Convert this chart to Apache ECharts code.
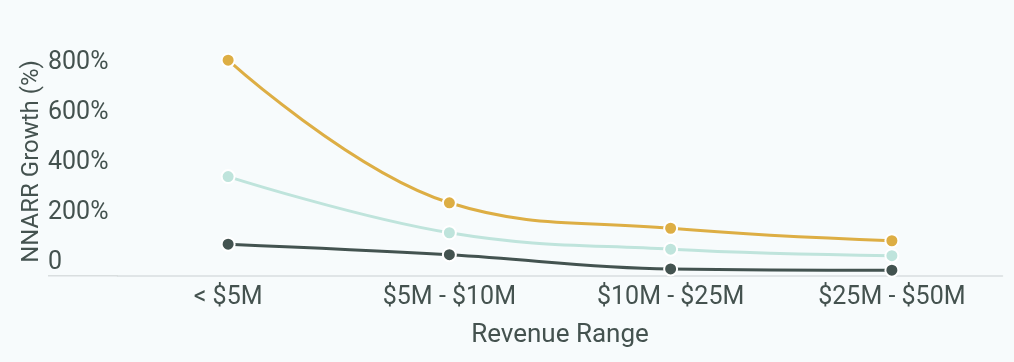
<!DOCTYPE html>
<html>
<head>
<meta charset="utf-8">
<script src="https://cdn.jsdelivr.net/npm/echarts@6/dist/echarts.min.js"></script>
<style>
html,body{margin:0;padding:0;background:#f7fbfc;}
#chart{width:1014px;height:362px;}
</style>
</head>
<body>
<div id="chart"></div>
<script>
const categories = ['< $5M', '$5M - $10M', '$10M - $25M', '$25M - $50M'];
const seriesHigh = [800, 229, 127, 77];
const seriesMid = [334, 109, 43, 17];
const seriesLow = [63, 21, -36, -41];
const yTickValues = [0, 200, 400, 600, 800];

const textColor = '#44524f';
const chart = echarts.init(document.getElementById('chart'), null, {renderer: 'canvas'});
const mk = (name, data, color, z) => ({
  name, type: 'line', data, smooth: 0.4, z,
  symbol: 'circle', symbolSize: 13,
  lineStyle: {color, width: 3},
  itemStyle: {color, borderColor: '#ffffff', borderWidth: 2},
  emphasis: {disabled: true}
});
chart.setOption({
  backgroundColor: '#f7fbfc',
  animation: false,
  grid: {left: 117.5, right: 11.5, top: 47.2, bottom: 86.3, outerBoundsMode: 'none', containLabel: false},
  xAxis: {
    type: 'category', data: categories, boundaryGap: true,
    name: 'Revenue Range', nameLocation: 'middle', nameGap: 47,
    nameTextStyle: {color: textColor, fontFamily: 'Roboto', fontSize: 26},
    axisLine: {onZero: false, lineStyle: {color: '#d9dedf', width: 1.5}},
    axisTick: {show: false},
    axisLabel: {color: textColor, fontFamily: 'Roboto', fontSize: 25, margin: 10}
  },
  yAxis: {
    type: 'value', min: -63, max: 852,
    name: 'NNARR Growth (%)', nameLocation: 'middle', nameRotate: 90, nameGap: 74,
    nameMoveOverlap: false,
    nameTextStyle: {color: textColor, fontFamily: 'Roboto', fontSize: 24},
    axisLine: {show: false}, axisTick: {show: false}, splitLine: {show: false},
    axisLabel: {
      customValues: yTickValues, align: 'left', margin: 69.5,
      verticalAlign: 'top', lineHeight: 5,
      color: textColor, fontFamily: 'Roboto', fontSize: 25,
      formatter: v => v === 0 ? '0' : v + '%'
    }
  },
  graphic: [{
    type: 'line', shape: {x1: 48, y1: 275.7, x2: 118, y2: 275.7},
    style: {stroke: '#d9dedf', lineWidth: 1.5}, silent: true
  }],
  series: [
    mk('High', seriesHigh, '#ddae44', 3),
    mk('Mid', seriesMid, '#bfe4dc', 2),
    mk('Low', seriesLow, '#435350', 1)
  ]
});
</script>
</body>
</html>
